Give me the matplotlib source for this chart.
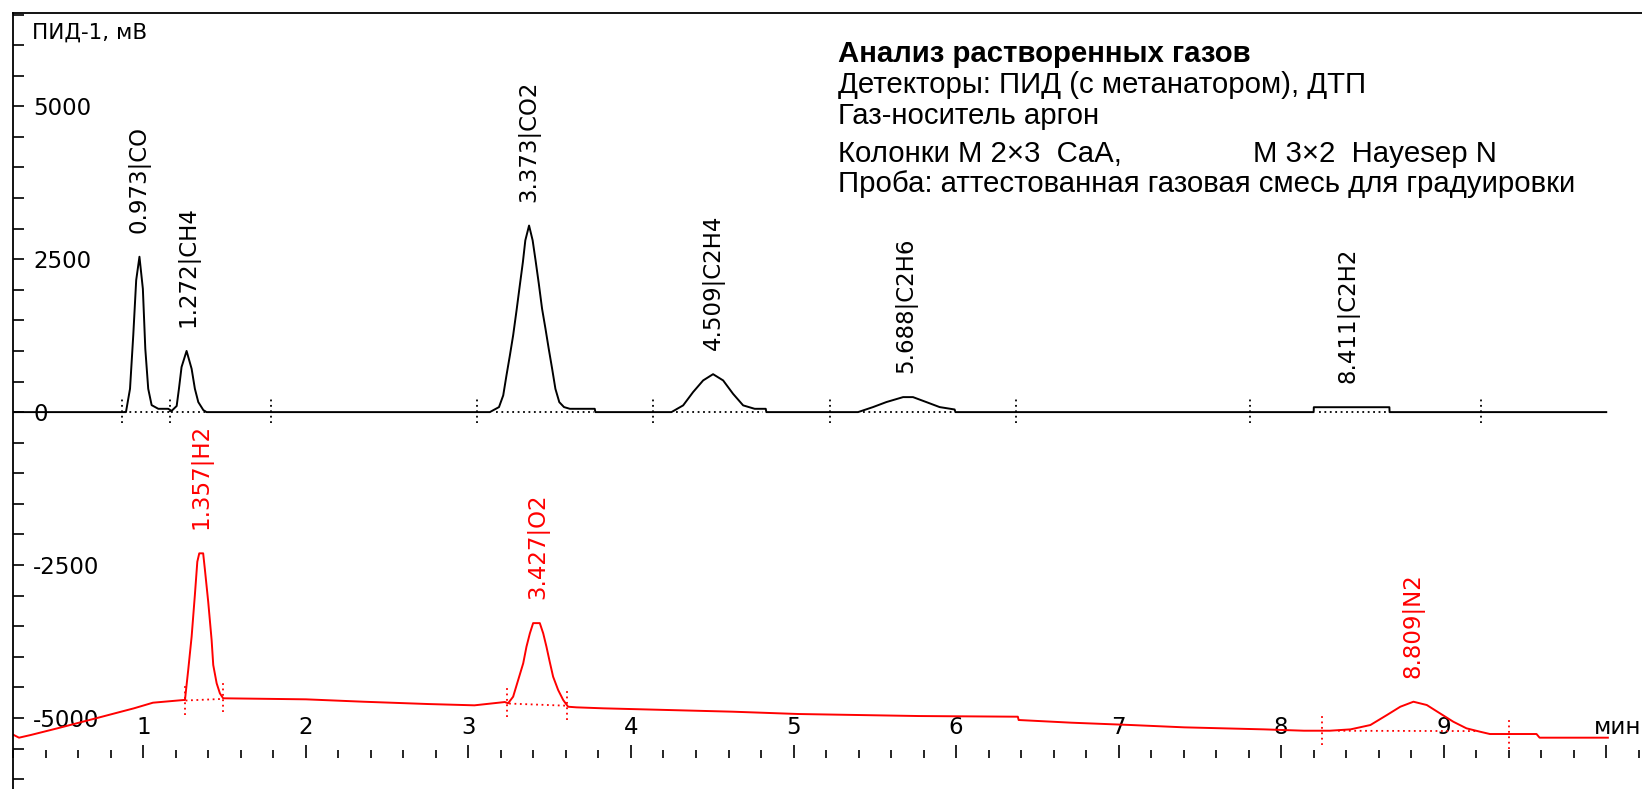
import matplotlib
matplotlib.use('Agg')
import matplotlib.pyplot as plt
import numpy as np
from matplotlib.ticker import FixedLocator, MultipleLocator

# ПИД-1 trace (black): time, min / signal, mV
fid_time = [0.195, 0.893, 0.918, 0.938, 0.956, 0.976, 0.997, 1.012, 1.030, 1.051, 1.092, 1.153,
            1.174, 1.205, 1.219, 1.235, 1.266, 1.297, 1.317, 1.338, 1.369, 1.389,
            3.132, 3.152, 3.188, 3.214, 3.234, 3.255, 3.275, 3.296, 3.316, 3.335, 3.350, 3.373,
            3.395, 3.413, 3.433, 3.453, 3.474, 3.494, 3.515, 3.535, 3.559, 3.588, 3.624, 3.777, 3.781,
            4.249, 4.321, 4.382, 4.444, 4.505, 4.567, 4.628, 4.690, 4.761, 4.829, 4.833,
            5.397, 5.489, 5.571, 5.674, 5.735, 5.817, 5.899, 5.991, 5.996,
            8.200, 8.201, 8.666, 8.667, 10.0]
fid_mv = [0, 0, 381, 1259, 2158, 2540, 2016, 1035, 381, 114, 54, 54,
          20, 100, 382, 736, 1000, 708, 382, 164, 33, 0,
          0, 30, 82, 273, 600, 927, 1254, 1663, 2071, 2453, 2808, 3050,
          2808, 2480, 2098, 1690, 1363, 1035, 708, 381, 163, 82, 54, 54, 0,
          0, 110, 327, 518, 620, 518, 299, 110, 54, 54, 0,
          0, 82, 164, 245, 245, 164, 82, 43, 0,
          0, 80, 80, 0, 0]

# ДТП trace (red)
tcd_time = [0.195, 0.235, 0.306, 0.471, 0.707, 0.942, 1.059, 1.248,
            1.256, 1.276, 1.297, 1.317, 1.332, 1.344, 1.368, 1.379, 1.399, 1.420, 1.430, 1.451, 1.471, 1.491,
            2.0, 2.354, 2.754, 3.037, 3.224,
            3.244, 3.275, 3.306, 3.337, 3.357, 3.378, 3.398, 3.439, 3.460, 3.480, 3.500, 3.521, 3.552,
            3.583, 3.613, 3.665, 3.829,
            4.625, 5.03, 5.77, 6.38, 6.385, 6.71, 7.077, 7.404, 7.895, 8.14, 8.30,
            8.427, 8.549, 8.651, 8.733, 8.814, 8.896, 8.977, 9.059, 9.140, 9.223, 9.284, 9.571, 9.59, 10.01]
tcd_mv = [-5268, -5323, -5280, -5170, -5007, -4843, -4751, -4707,
          -4707, -4217, -3672, -2990, -2446, -2309, -2309, -2582, -3100, -3726, -4135, -4434, -4598, -4679,
          -4696, -4735, -4773, -4794, -4740,
          -4761, -4653, -4380, -4107, -3836, -3617, -3450, -3450, -3617, -3836, -4081, -4326, -4544,
          -4707, -4817, -4827, -4843,
          -4898, -4936, -4969, -4980, -5034, -5078, -5116, -5154, -5187, -5209, -5209,
          -5187, -5116, -4952, -4817, -4735, -4789, -4925, -5062, -5170, -5225, -5263, -5263, -5323, -5323]

fid_names = ['0.973|CO', '1.272|CH4', '3.373|CO2', '4.509|C2H4', '5.688|C2H6', '8.411|C2H2']
fid_rt = [0.973, 1.272, 3.373, 4.509, 5.688, 8.411]
tcd_names = ['1.357|H2', '3.427|O2', '8.809|N2']
tcd_rt = [1.357, 3.427, 8.809]

# integration marks and baselines
fid_marks = [0.871, 1.165, 1.786, 3.053, 4.136, 5.224, 6.371, 7.81, 9.227]
fid_base_start = [0.88, 1.17, 3.17, 4.28, 5.43, 8.23]
fid_base_end = [1.16, 1.40, 3.77, 4.81, 5.98, 8.65]
tcd_marks = [1.255, 1.488, 3.235, 3.605, 8.253, 9.399]
tcd_base_start = [1.26, 3.25, 8.35]
tcd_base_end = [1.48, 3.60, 9.20]
tcd_base_mv_start = [-4715, -4765, -5210]
tcd_base_mv_end = [-4690, -4800, -5215]

W, H = 1642, 789
fig = plt.figure(figsize=(W / 100, H / 100), dpi=100)
ax = fig.add_axes([12.5 / W, 0, 1 - 12.5 / W, 1 - 12.7 / H])
ax.set_xlim(0.195, 10.22)
ax.set_ylim(-6162, 6530)

dot = (0, (1, 2))
ax.plot(fid_time, fid_mv, color='black', lw=1.4)
ax.plot(tcd_time, tcd_mv, color='red', lw=1.4)

for a, b in zip(fid_base_start, fid_base_end):
    ax.plot([a, b], [0, 0], color='black', ls=dot, lw=1.3)
for m in fid_marks:
    ax.plot([m, m], [-170, 230], color='black', ls=dot, lw=1.3)
for a, b, ya, yb in zip(tcd_base_start, tcd_base_end, tcd_base_mv_start, tcd_base_mv_end):
    ax.plot([a, b], [ya, yb], color='red', ls=dot, lw=1.3)
for m in tcd_marks:
    yb = np.interp(m, tcd_time, tcd_mv)
    ax.plot([m, m], [yb - 240, yb + 240], color='red', ls=dot, lw=1.3)

ft = np.array(fid_time)
fv = np.array(fid_mv)
for name, rt in zip(fid_names, fid_rt):
    top = fv[(ft > rt - 0.15) & (ft < rt + 0.3)].max()
    ax.text(rt, top + 390, name, rotation=90, ha='center', va='bottom',
            fontsize=16.5, color='black')
tt = np.array(tcd_time)
tv = np.array(tcd_mv)
for name, rt in zip(tcd_names, tcd_rt):
    top = tv[(tt > rt - 0.15) & (tt < rt + 0.15)].max()
    ax.text(rt, top + 390, name, rotation=90, ha='center', va='bottom',
            fontsize=16.5, color='red')

# axes look
ax.spines['right'].set_visible(False)
ax.spines['bottom'].set_position(('data', -5655))
ax.spines['bottom'].set_visible(False)
for s in ['left', 'top']:
    ax.spines[s].set_linewidth(1.3)

ax.yaxis.set_major_locator(FixedLocator([-5000, -2500, 0, 2500, 5000]))
ax.yaxis.set_minor_locator(MultipleLocator(500))
ax.set_yticklabels(['-5000', '-2500', '0', '2500', '5000'])
ax.tick_params(axis='y', which='both', direction='in', length=8, width=1.2,
               pad=-15, labelsize=16.5)
for lab in ax.get_yticklabels():
    lab.set_horizontalalignment('left')

ax.xaxis.set_major_locator(FixedLocator(list(range(0, 11))))
ax.xaxis.set_minor_locator(MultipleLocator(0.2))
ax.set_xticklabels([str(k) for k in range(0, 10)] + [''])
ax.tick_params(axis='x', which='major', direction='in', length=9.5, width=1.2,
               pad=-30, labelsize=16.5)
ax.tick_params(axis='x', which='minor', direction='in', length=6, width=1.2)
ax.text(10.07, -5150, 'мин', fontsize=16.5, ha='center', va='center')

fig.text(32 / W, 1 - 33 / H, 'ПИД-1, мВ', fontsize=15.5, va='center', ha='left')

info_x = 838 / W
fs = 21.2
fig.text(info_x, 1 - 54 / H, 'Анализ растворенных газов', family='Liberation Sans',
         fontsize=fs, fontweight='bold', va='center')
fig.text(info_x, 1 - 85 / H, 'Детекторы: ПИД (с метанатором), ДТП', family='Liberation Sans',
         fontsize=fs, va='center')
fig.text(info_x, 1 - 116 / H, 'Газ-носитель аргон', family='Liberation Sans',
         fontsize=fs, va='center')
fig.text(info_x, 1 - 154 / H, 'Колонки M 2×3  CaA,', family='Liberation Sans',
         fontsize=fs, va='center')
fig.text(1253 / W, 1 - 154 / H, 'M 3×2  Hayesep N', family='Liberation Sans',
         fontsize=fs, va='center')
fig.text(info_x, 1 - 184 / H, 'Проба: аттестованная газовая смесь для градуировки',
         family='Liberation Sans', fontsize=fs, va='center')

fig.savefig('out.png', dpi=100)
